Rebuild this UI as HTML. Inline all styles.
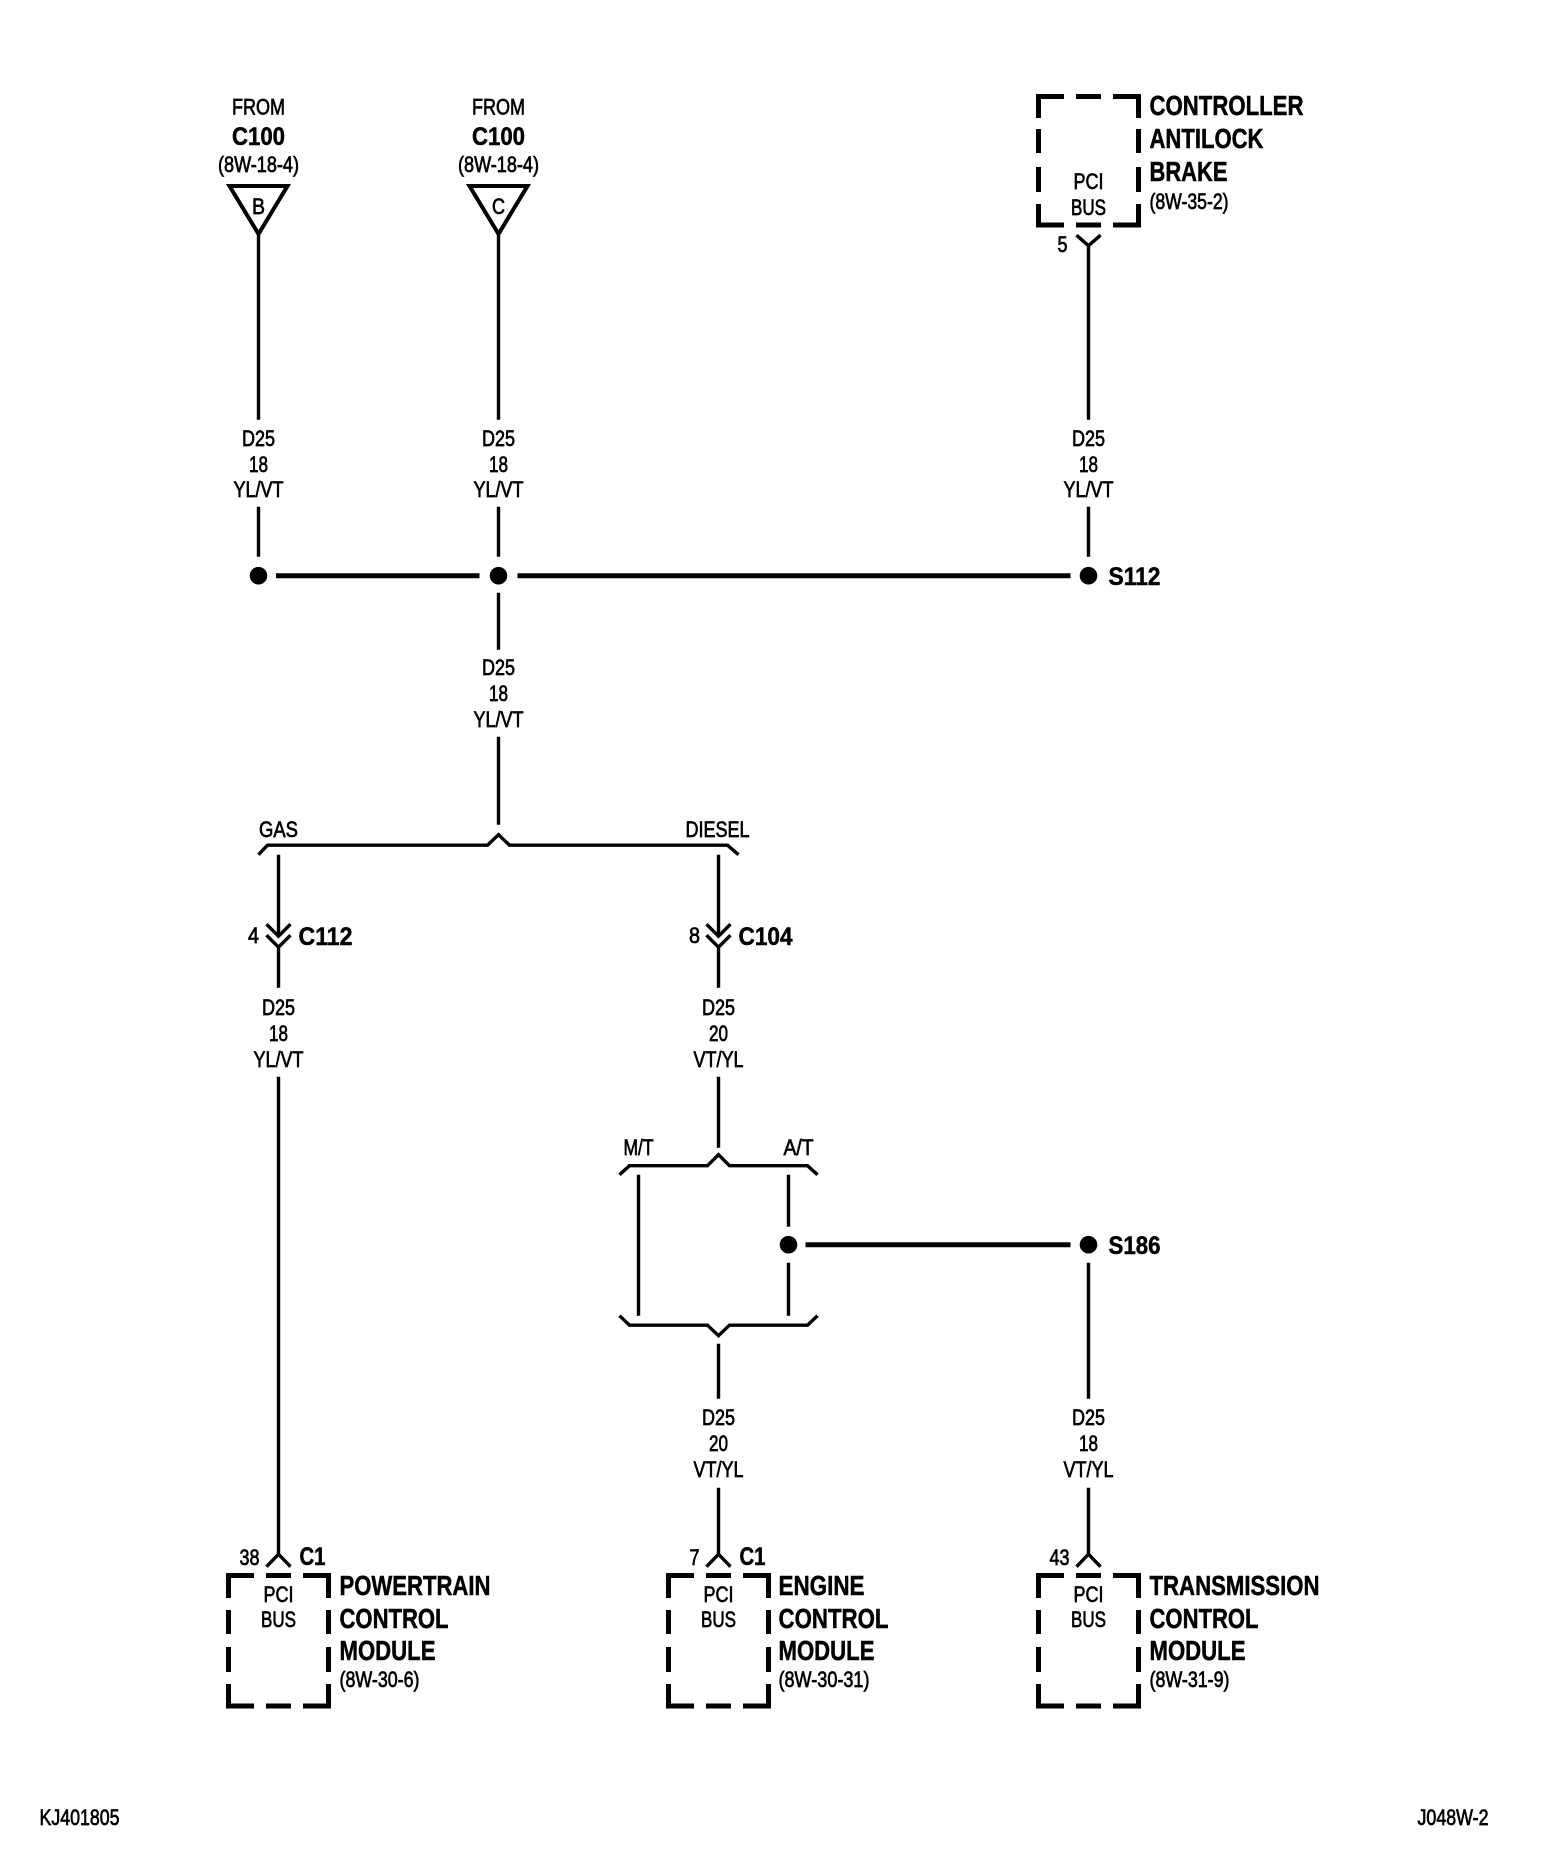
<!DOCTYPE html>
<html><head><meta charset="utf-8"><style>
html,body{margin:0;padding:0;background:#fff;width:1568px;height:1856px;overflow:hidden}
svg{display:block}
text{font-family:"Liberation Sans",sans-serif;fill:#000;transform:translate(.5px,0)}
.n{font-size:22px;stroke:#000;stroke-width:.7}
.b{font-size:25px;font-weight:bold;stroke:#000;stroke-width:.5}
.l{font-size:27.5px;font-weight:bold;stroke:#000;stroke-width:.5}
.m{text-anchor:middle}
.w{stroke:#000;stroke-width:3.4;fill:none;transform:translate(.5px,.7px)}
.t{stroke:#000;stroke-width:5;fill:none;transform:translate(.5px,.7px)}
.x{stroke:#000;stroke-width:5;fill:none}
.r{stroke:#000;stroke-width:4;fill:none}
circle{transform:translate(.5px,.7px)}
</style></head><body>
<svg width="1568" height="1856" viewBox="0 0 1568 1856" xmlns="http://www.w3.org/2000/svg">
<rect width="1568" height="1856" fill="#fff"/>

<!-- top left connectors -->
<text class="n m" x="258" y="114.500" textLength="53" lengthAdjust="spacingAndGlyphs">FROM</text>
<text class="b m" x="258" y="145" textLength="53" lengthAdjust="spacingAndGlyphs">C100</text>
<text class="n m" x="258" y="172" textLength="81" lengthAdjust="spacingAndGlyphs">(8W-18-4)</text>
<path class="r" d="M229.500 186H287.500L258.500 234Z"/>
<text class="n m" x="258" y="214" textLength="13" lengthAdjust="spacingAndGlyphs">B</text>
<text class="n m" x="498" y="114.500" textLength="53" lengthAdjust="spacingAndGlyphs">FROM</text>
<text class="b m" x="498" y="145" textLength="53" lengthAdjust="spacingAndGlyphs">C100</text>
<text class="n m" x="498" y="172" textLength="81" lengthAdjust="spacingAndGlyphs">(8W-18-4)</text>
<path class="r" d="M469.500 186H527.500L498.500 234Z"/>
<text class="n m" x="498" y="214" textLength="13" lengthAdjust="spacingAndGlyphs">C</text>

<!-- ABS box -->
<path class="x" d="M1064 96.500H1038.500V118M1076 96.500H1101M1113 96.500H1138.500V118M1038.500 129V153M1138.500 129V153M1038.500 167V192M1138.500 167V192M1038.500 204V225H1064M1138.500 204V225H1113M1076 225H1101"/>
<text class="n m" x="1088" y="189" textLength="30" lengthAdjust="spacingAndGlyphs">PCI</text>
<text class="n m" x="1088" y="215" textLength="35" lengthAdjust="spacingAndGlyphs">BUS</text>
<text class="l" x="1149" y="115" textLength="154" lengthAdjust="spacingAndGlyphs">CONTROLLER</text>
<text class="l" x="1149" y="148" textLength="114" lengthAdjust="spacingAndGlyphs">ANTILOCK</text>
<text class="l" x="1149" y="181" textLength="78" lengthAdjust="spacingAndGlyphs">BRAKE</text>
<text class="n" x="1149" y="209" textLength="79" lengthAdjust="spacingAndGlyphs">(8W-35-2)</text>
<path class="w" d="M1076 234.500L1088 245L1100 234.500M1088 245V419"/>
<text class="n m" x="1062" y="252" textLength="10" lengthAdjust="spacingAndGlyphs">5</text>

<!-- upper wires -->
<path class="w" d="M258 233V419M498 233V419M258 506V556M498 506V556M1088 506V556"/>
<text class="n m" x="258" y="446" textLength="33" lengthAdjust="spacingAndGlyphs">D25</text>
<text class="n m" x="258" y="472" textLength="19" lengthAdjust="spacingAndGlyphs">18</text>
<text class="n m" x="258" y="497" textLength="50" lengthAdjust="spacingAndGlyphs">YL/VT</text>
<text class="n m" x="498" y="446" textLength="33" lengthAdjust="spacingAndGlyphs">D25</text>
<text class="n m" x="498" y="472" textLength="19" lengthAdjust="spacingAndGlyphs">18</text>
<text class="n m" x="498" y="497" textLength="50" lengthAdjust="spacingAndGlyphs">YL/VT</text>
<text class="n m" x="1088" y="446" textLength="33" lengthAdjust="spacingAndGlyphs">D25</text>
<text class="n m" x="1088" y="472" textLength="19" lengthAdjust="spacingAndGlyphs">18</text>
<text class="n m" x="1088" y="497" textLength="50" lengthAdjust="spacingAndGlyphs">YL/VT</text>

<!-- S112 -->
<circle cx="258" cy="575" r="8.8"/><circle cx="498" cy="575" r="8.8"/><circle cx="1088" cy="575" r="8.8"/>
<path class="t" d="M275.500 575H479M517 575H1070"/>
<text class="b" x="1108" y="585" textLength="52" lengthAdjust="spacingAndGlyphs">S112</text>

<path class="w" d="M498 592V649M498 736V824"/>
<text class="n m" x="498" y="675" textLength="33" lengthAdjust="spacingAndGlyphs">D25</text>
<text class="n m" x="498" y="701" textLength="19" lengthAdjust="spacingAndGlyphs">18</text>
<text class="n m" x="498" y="727" textLength="50" lengthAdjust="spacingAndGlyphs">YL/VT</text>

<!-- GAS/DIESEL bracket -->
<path class="w" d="M258 854L267 844.500H487L498 834L509 844.500H727L738 854"/>
<text class="n m" x="278" y="837" textLength="39" lengthAdjust="spacingAndGlyphs">GAS</text>
<text class="n m" x="717" y="837" textLength="64" lengthAdjust="spacingAndGlyphs">DIESEL</text>

<!-- C112 -->
<path class="w" d="M278 854V935.500M266 923.500L278 935.500L290 923.500M266 934.500L278 946.500L290 934.500M278 946.500V987"/>
<text class="n m" x="253" y="943" textLength="11" lengthAdjust="spacingAndGlyphs">4</text>
<text class="b" x="298" y="945" textLength="54" lengthAdjust="spacingAndGlyphs">C112</text>
<text class="n m" x="278" y="1015" textLength="33" lengthAdjust="spacingAndGlyphs">D25</text>
<text class="n m" x="278" y="1041" textLength="19" lengthAdjust="spacingAndGlyphs">18</text>
<text class="n m" x="278" y="1067" textLength="50" lengthAdjust="spacingAndGlyphs">YL/VT</text>
<path class="w" d="M278 1076V1553"/>

<!-- C104 -->
<path class="w" d="M718 854V935.500M706 923.500L718 935.500L730 923.500M706 934.500L718 946.500L730 934.500M718 946.500V987"/>
<text class="n m" x="694" y="943" textLength="11" lengthAdjust="spacingAndGlyphs">8</text>
<text class="b" x="738" y="945" textLength="54" lengthAdjust="spacingAndGlyphs">C104</text>
<text class="n m" x="718" y="1015" textLength="33" lengthAdjust="spacingAndGlyphs">D25</text>
<text class="n m" x="718" y="1041" textLength="19" lengthAdjust="spacingAndGlyphs">20</text>
<text class="n m" x="718" y="1067" textLength="50" lengthAdjust="spacingAndGlyphs">VT/YL</text>
<path class="w" d="M718 1076V1147"/>

<!-- M/T A/T -->
<path class="w" d="M619 1174L629 1165H707L718 1154L729 1165H807L817 1174"/>
<text class="n m" x="638" y="1155" textLength="30" lengthAdjust="spacingAndGlyphs">M/T</text>
<text class="n m" x="798" y="1155" textLength="30" lengthAdjust="spacingAndGlyphs">A/T</text>
<path class="w" d="M638 1174V1315M788 1174V1226M788 1262V1315"/>
<circle cx="788" cy="1244" r="8.800"/><circle cx="1088" cy="1244" r="8.800"/>
<path class="t" d="M805 1244H1070"/>
<text class="b" x="1108" y="1254" textLength="52" lengthAdjust="spacingAndGlyphs">S186</text>
<path class="w" d="M619 1315L629 1324.500H707L718 1335L729 1324.500H807L817 1315"/>
<path class="w" d="M718 1343V1398M718 1487V1553M1088 1262V1398M1088 1487V1553"/>
<text class="n m" x="718" y="1425" textLength="33" lengthAdjust="spacingAndGlyphs">D25</text>
<text class="n m" x="718" y="1451" textLength="19" lengthAdjust="spacingAndGlyphs">20</text>
<text class="n m" x="718" y="1477" textLength="50" lengthAdjust="spacingAndGlyphs">VT/YL</text>
<text class="n m" x="1088" y="1425" textLength="33" lengthAdjust="spacingAndGlyphs">D25</text>
<text class="n m" x="1088" y="1451" textLength="19" lengthAdjust="spacingAndGlyphs">18</text>
<text class="n m" x="1088" y="1477" textLength="50" lengthAdjust="spacingAndGlyphs">VT/YL</text>

<!-- Powertrain -->
<g>
<path class="w" d="M266 1566L278 1553.500L290 1566"/>
<path class="x" d="M254 1575.500H228.500V1598M266 1575.500H291M303 1575.500H328.500V1598M228.500 1610V1634M328.500 1610V1634M228.500 1647V1672M328.500 1647V1672M228.500 1684V1706H254M328.500 1684V1706H303M266 1706H291"/>
<text class="n m" x="278" y="1602" textLength="30" lengthAdjust="spacingAndGlyphs">PCI</text>
<text class="n m" x="278" y="1627" textLength="35" lengthAdjust="spacingAndGlyphs">BUS</text>
<text class="n m" x="249" y="1565" textLength="20" lengthAdjust="spacingAndGlyphs">38</text>
<text class="b" x="299" y="1565" textLength="26" lengthAdjust="spacingAndGlyphs">C1</text>
<text class="l" x="339" y="1595" textLength="151" lengthAdjust="spacingAndGlyphs">POWERTRAIN</text>
<text class="l" x="339" y="1628" textLength="109" lengthAdjust="spacingAndGlyphs">CONTROL</text>
<text class="l" x="339" y="1660" textLength="96" lengthAdjust="spacingAndGlyphs">MODULE</text>
<text class="n" x="339" y="1687" textLength="80" lengthAdjust="spacingAndGlyphs">(8W-30-6)</text>
</g>

<!-- Engine -->
<g>
<path class="w" d="M706 1566L718 1553.500L730 1566"/>
<path class="x" d="M694 1575.500H668.500V1598M706 1575.500H731M743 1575.500H768.500V1598M668.500 1610V1634M768.500 1610V1634M668.500 1647V1672M768.500 1647V1672M668.500 1684V1706H694M768.500 1684V1706H743M706 1706H731"/>
<text class="n m" x="718" y="1602" textLength="30" lengthAdjust="spacingAndGlyphs">PCI</text>
<text class="n m" x="718" y="1627" textLength="35" lengthAdjust="spacingAndGlyphs">BUS</text>
<text class="n m" x="694" y="1565" textLength="10" lengthAdjust="spacingAndGlyphs">7</text>
<text class="b" x="739" y="1565" textLength="26" lengthAdjust="spacingAndGlyphs">C1</text>
<text class="l" x="778" y="1595" textLength="86" lengthAdjust="spacingAndGlyphs">ENGINE</text>
<text class="l" x="778" y="1628" textLength="110" lengthAdjust="spacingAndGlyphs">CONTROL</text>
<text class="l" x="778" y="1660" textLength="96" lengthAdjust="spacingAndGlyphs">MODULE</text>
<text class="n" x="778" y="1687" textLength="91" lengthAdjust="spacingAndGlyphs">(8W-30-31)</text>
</g>

<!-- Transmission -->
<g>
<path class="w" d="M1076 1566L1088 1553.500L1100 1566"/>
<path class="x" d="M1064 1575.500H1038.500V1598M1076 1575.500H1101M1113 1575.500H1138.500V1598M1038.500 1610V1634M1138.500 1610V1634M1038.500 1647V1672M1138.500 1647V1672M1038.500 1684V1706H1064M1138.500 1684V1706H1113M1076 1706H1101"/>
<text class="n m" x="1088" y="1602" textLength="30" lengthAdjust="spacingAndGlyphs">PCI</text>
<text class="n m" x="1088" y="1627" textLength="35" lengthAdjust="spacingAndGlyphs">BUS</text>
<text class="n m" x="1059" y="1565" textLength="20" lengthAdjust="spacingAndGlyphs">43</text>
<text class="l" x="1149" y="1595" textLength="170" lengthAdjust="spacingAndGlyphs">TRANSMISSION</text>
<text class="l" x="1149" y="1628" textLength="109" lengthAdjust="spacingAndGlyphs">CONTROL</text>
<text class="l" x="1149" y="1660" textLength="96" lengthAdjust="spacingAndGlyphs">MODULE</text>
<text class="n" x="1149" y="1687" textLength="80" lengthAdjust="spacingAndGlyphs">(8W-31-9)</text>
</g>

<!-- footer -->
<text class="n" x="39" y="1825" textLength="80" lengthAdjust="spacingAndGlyphs">KJ401805</text>
<text class="n" x="1417" y="1825" textLength="71" lengthAdjust="spacingAndGlyphs">J048W-2</text>
</svg>
</body></html>
